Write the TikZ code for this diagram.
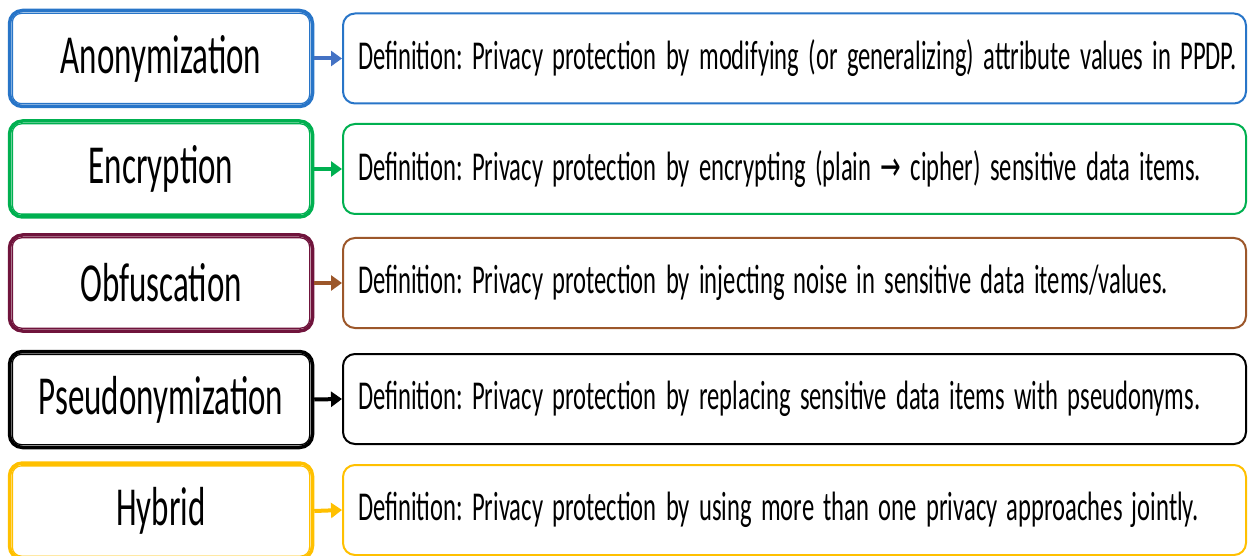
\documentclass[tikz,border=0pt]{standalone}
\usepackage{fontspec}
\setmainfont{Carlito}
\newfontfamily\arrfont{DejaVu Sans}
\usetikzlibrary{arrows.meta,calc}
\definecolor{cblue}{RGB}{40,117,200}
\definecolor{cbluea}{RGB}{68,114,196}
\definecolor{cgreen}{RGB}{0,176,80}
\definecolor{cmaroon}{RGB}{112,20,60}
\definecolor{cbrown}{RGB}{156,87,42}
\definecolor{cblack}{RGB}{0,0,0}
\definecolor{cgold}{RGB}{255,192,0}
\newcommand{\ltxt}[1]{\scalebox{0.6}[1]{\fontsize{55}{60}\selectfont #1}}
\newcommand{\rtxt}[1]{\scalebox{0.6}[1]{\fontsize{41}{48}\selectfont\spaceskip=15.5pt\relax\xspaceskip=15.5pt\relax #1}}
\tikzset{
  lbox/.style={draw=#1, rounded corners=13pt, line width=3.5pt, minimum width=303pt, minimum height=96pt, inner sep=0pt},
  rbox/.style={draw=#1, rounded corners=12pt, line width=2pt, minimum width=903pt, minimum height=90pt, inner xsep=15pt, inner ysep=0pt, text width=873pt, align=left},
  conn/.style={draw=#1, line width=4pt, -{Triangle[length=11pt,width=15pt]}, color=#1}
}
\newcommand{\innerline}[2]{\draw[#2, line width=1.3pt, rounded corners=9pt] ($(#1.north west)+(4.6,4.6)$) rectangle ($(#1.south east)+(-4.6,-4.6)$);}
\begin{document}
\begin{tikzpicture}[x=1pt,y=-1pt]
\useasboundingbox (0,0) rectangle (1248,556);
\clip (0,0) rectangle (1248,556);
% row 1
\node[lbox=cblue] (a1) at (161,58.5) {\ltxt{Anonymization}};
\innerline{a1}{cblue}
\node[rbox=cblue] (d1) at (794.5,58.5) {\rtxt{Definition: Privacy protection by modifying (or generalizing) attribute values in PPDP.}};
\draw[conn=cbluea] (a1.east) -- (d1.west);
% row 2
\node[lbox=cgreen] (a2) at (161,169) {\ltxt{Encryption}};
\innerline{a2}{cgreen}
\node[rbox=cgreen] (d2) at (794.5,169) {\rtxt{Definition: Privacy protection by encrypting (plain {\arrfont →} cipher) sensitive data items.}};
\draw[conn=cgreen] (a2.east) -- (d2.west);
% row 3
\node[lbox=cmaroon] (a3) at (161,283) {\ltxt{Obfuscation}};
\innerline{a3}{cmaroon}
\node[rbox=cbrown] (d3) at (794.5,283) {\rtxt{Definition: Privacy protection by injecting noise in sensitive data items/values.}};
\draw[conn=cbrown] (a3.east) -- (d3.west);
% row 4
\node[lbox=cblack] (a4) at (161,399.5) {\ltxt{Pseudonymization}};
\innerline{a4}{cblack}
\node[rbox=cblack] (d4) at (794.5,399) {\rtxt{Definition: Privacy protection by replacing sensitive data items with pseudonyms.}};
\draw[conn=cblack] (a4.east) -- (d4.west);
% row 5
\node[lbox=cgold] (a5) at (161,511) {\ltxt{Hybrid}};
\innerline{a5}{cgold}
\node[rbox=cgold] (d5) at (794.5,510) {\rtxt{Definition: Privacy protection by using more than one privacy approaches jointly.}};
\draw[conn=cgold] (a5.east) -- (d5.west);
\end{tikzpicture}
\end{document}
